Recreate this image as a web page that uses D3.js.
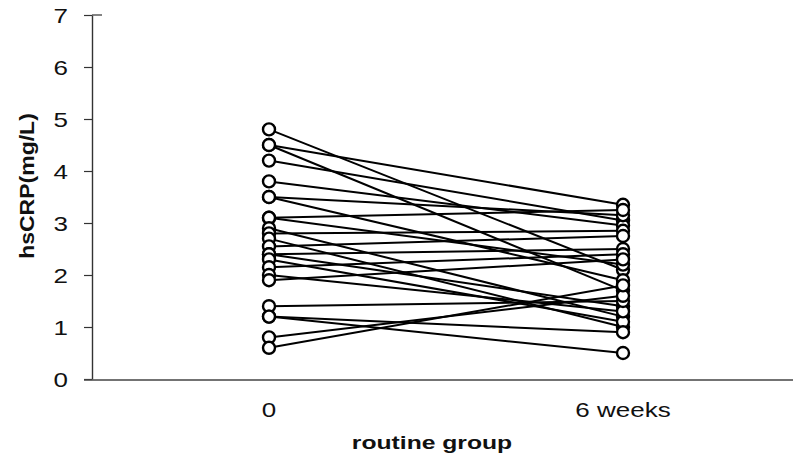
<!DOCTYPE html>
<html>
<head>
<meta charset="utf-8">
<script src="https://cdn.jsdelivr.net/npm/d3@7"></script>
<style>
  body { margin: 0; background: #fff; }
  svg { display: block; }
  text { font-family: "Liberation Sans", Arial, sans-serif; fill: #111; }
</style>
</head>
<body>
<div id="chart"></div>
<script>
//
// data
//
var timepoints = ["0", "6 weeks"];
var yTicks = [0, 1, 2, 3, 4, 5, 6, 7];

// one value per subject, same order in both arrays
var baseline = [4.8, 4.5, 4.5, 4.2, 3.8, 3.5, 3.5, 3.1, 3.1, 2.9, 2.8, 2.7,
                2.55, 2.4, 2.4, 2.3, 2.15, 2.0, 1.9, 1.4, 1.2, 1.2, 0.8, 0.6];
var sixWeeks = [2.1, 3.35, 1.7, 3.05, 2.95, 3.15, 1.9, 2.2, 3.25, 1.2, 2.85, 1.0,
                2.75, 1.4, 2.5, 1.1, 2.4, 1.3, 2.3, 1.5, 0.5, 0.9, 1.6, 1.8];

//
// layout
//
var W = 793, H = 457,
    axisX = 92, axisY = 380,
    stretch = 1.3;   // text in the scan is a bit wide

var svg = d3.select("#chart").append("svg")
    .attr("width", W)
    .attr("height", H);

var x = d3.scalePoint().domain(timepoints).range([axisX, 800]).padding(0.5);
var y = d3.scaleLinear().domain([0, 7]).range([379, 15]);

// y axis
var yAxis = svg.append("g")
    .attr("transform", "translate(" + axisX + ",0)")
    .call(d3.axisLeft(y).tickValues(yTicks).tickFormat(d3.format("d"))
        .tickSize(8).tickSizeOuter(0));

yAxis.select(".domain").attr("stroke", "#333").attr("stroke-width", 1.4);
yAxis.selectAll(".tick line").attr("stroke", "#333").attr("stroke-width", 1.2);
yAxis.selectAll(".tick text")
    .attr("x", 0)
    .attr("dy", "0.36em")
    .attr("transform", "translate(-24,0) scale(" + stretch + ",1)")
    .style("font-size", "20px")
    .attr("fill", "#111");

// little cap at the top of the axis
svg.append("line")
    .attr("x1", axisX).attr("x2", axisX + 10)
    .attr("y1", y(7)).attr("y2", y(7))
    .attr("stroke", "#333").attr("stroke-width", 1.2);

// x axis line runs to the page edge
svg.append("line")
    .attr("x1", axisX - 8).attr("x2", W)
    .attr("y1", axisY).attr("y2", axisY)
    .attr("stroke", "#444").attr("stroke-width", 1.4);

// x labels
svg.selectAll(".xlab")
    .data(timepoints)
    .enter().append("text")
    .attr("class", "xlab")
    .attr("text-anchor", "middle")
    .attr("transform", function(d) {
        return "translate(" + x(d) + ",417) scale(" + stretch + ",1)";
    })
    .style("font-size", "20px")
    .text(function(d) { return d; });

// axis titles
svg.append("text")
    .attr("text-anchor", "middle")
    .attr("transform", "translate(432,449) scale(" + stretch + ",1)")
    .style("font-size", "19px")
    .style("font-weight", "bold")
    .text("routine group");

svg.append("text")
    .attr("text-anchor", "middle")
    .attr("transform", "translate(34,186) rotate(-90) scale(1.15,1)")
    .style("font-size", "20px")
    .style("font-weight", "bold")
    .text("hsCRP(mg/L)");

//
// subjects: line from 0 to 6 weeks, open circles at both ends
//
var subjects = baseline.map(function(v, i) {
    return { a: v, b: sixWeeks[i] };
});

svg.append("g").selectAll("line")
    .data(subjects)
    .enter().append("line")
    .attr("x1", x(timepoints[0]))
    .attr("x2", x(timepoints[1]))
    .attr("y1", function(d) { return y(d.a); })
    .attr("y2", function(d) { return y(d.b); })
    .attr("stroke", "#000")
    .attr("stroke-width", 2);

var pts = [];
subjects.forEach(function(d) {
    pts.push({ t: timepoints[0], v: d.a });
    pts.push({ t: timepoints[1], v: d.b });
});

svg.append("g").selectAll("circle")
    .data(pts)
    .enter().append("circle")
    .attr("cx", function(d) { return x(d.t); })
    .attr("cy", function(d) { return y(d.v); })
    .attr("r", 6)
    .attr("fill", "#fff")
    .attr("stroke", "#000")
    .attr("stroke-width", 2.4);
</script>
</body>
</html>
